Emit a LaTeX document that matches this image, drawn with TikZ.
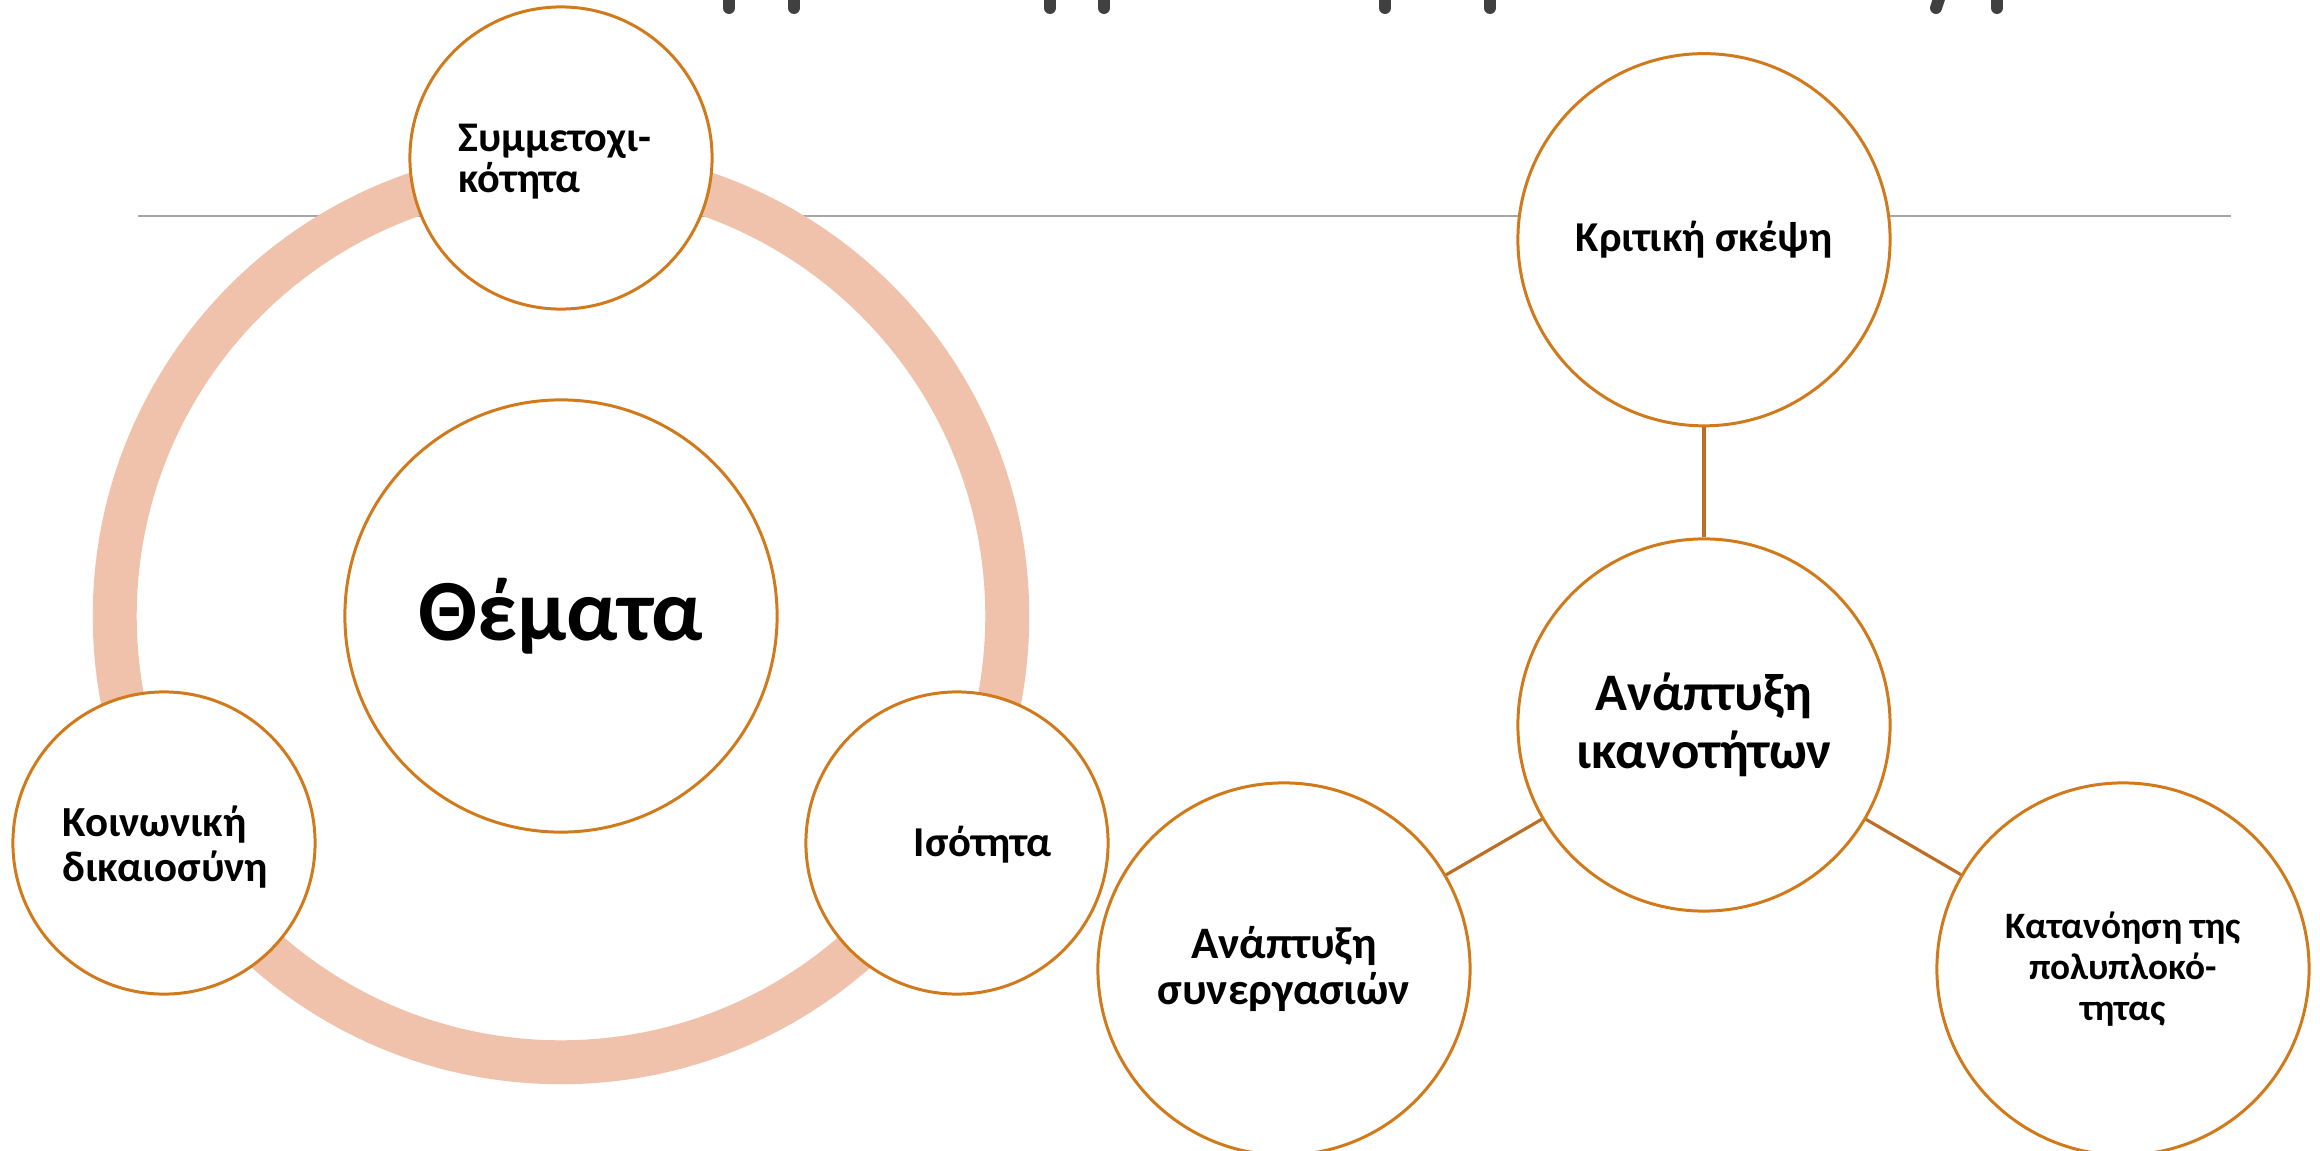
\documentclass[tikz,border=0pt]{standalone}
\usepackage{fontspec}
\setmainfont{Carlito}
\usepackage{tikz}
\usetikzlibrary{positioning}

\definecolor{ringpeach}{HTML}{F0C2AB}
\definecolor{circorange}{HTML}{D07A1C}
\definecolor{linkbrown}{HTML}{BD6D24}
\definecolor{rulegray}{HTML}{A6A6A6}
\definecolor{titlegray}{HTML}{404040}

\begin{document}
\begin{tikzpicture}[x=0.01cm, y=-0.01cm,
    bubble/.style={circle, draw=circorange, line width=0.85pt, fill=white, align=center, inner sep=0pt},
    small/.style={bubble, minimum size=3.02cm},
    mid/.style={bubble, minimum size=3.72cm},
    big/.style={bubble, minimum size=4.32cm},
    lbl/.style={align=left, inner sep=0pt, anchor=west}]
    \useasboundingbox (0,0) rectangle (2320,1151);

    % Title, cut off by the page edge
    \foreach \x in {729,794,1050,1104,1385,1490,1997}
        \draw[titlegray, line width=3.4pt, line cap=round] (\x,-10) -- (\x,8);
    \draw[titlegray, line width=3.4pt, line cap=round] (1942,-10) -- (1936,8);

    % Rule
    \draw[rulegray, line width=0.45pt] (138,216) -- (2231,216);

    % Left: ring of themes
    \draw[ringpeach, line width=12.5pt] (561,616) circle[radius=4.46cm];
    \node[big, font=\bfseries\fontsize{24.8}{29}\selectfont] (themes) at (561,616) {Θέματα};
    \node[small] (part) at (561,158) {};
    \node[small] (justice) at (164,843) {};
    \node[small] (equality) at (957,843) {};
    \node[lbl, font=\bfseries\fontsize{12}{11.6}\selectfont] (partlbl) at (458,162) {Συμμετοχι-\\κότητα};
    \node[lbl, font=\bfseries\fontsize{12.2}{12.8}\selectfont] (justicelbl) at (62,847) {Κοινωνική\\δικαιοσύνη};
    \node[lbl, font=\bfseries\fontsize{12.1}{13}\selectfont] (equalitylbl) at (913,845) {Ισότητα};

    % Right: skills
    \node[mid, font=\bfseries\fontsize{15}{16.5}\selectfont] (skills) at (1704,725) {Ανάπτυξη\\ικανοτήτων};
    \node[mid, font=\bfseries\fontsize{12.1}{14}\selectfont, above=1.1cm of skills] (critical) {Κριτική σκέψη};
    \node[mid, font=\bfseries\fontsize{12.8}{13}\selectfont] (collab) at (1284,969) {Ανάπτυξη\\συνεργασιών};
    \node[mid, font=\bfseries\fontsize{10.6}{11.7}\selectfont] (complex) at (2123,969) {Κατανόηση της\\πολυπλοκό-\\τητας};

    % Links
    \draw[linkbrown, line width=0.9pt] (skills) -- (critical);
    \draw[linkbrown, line width=0.9pt] (skills) -- (collab);
    \draw[linkbrown, line width=0.9pt] (skills) -- (complex);
\end{tikzpicture}
\end{document}
